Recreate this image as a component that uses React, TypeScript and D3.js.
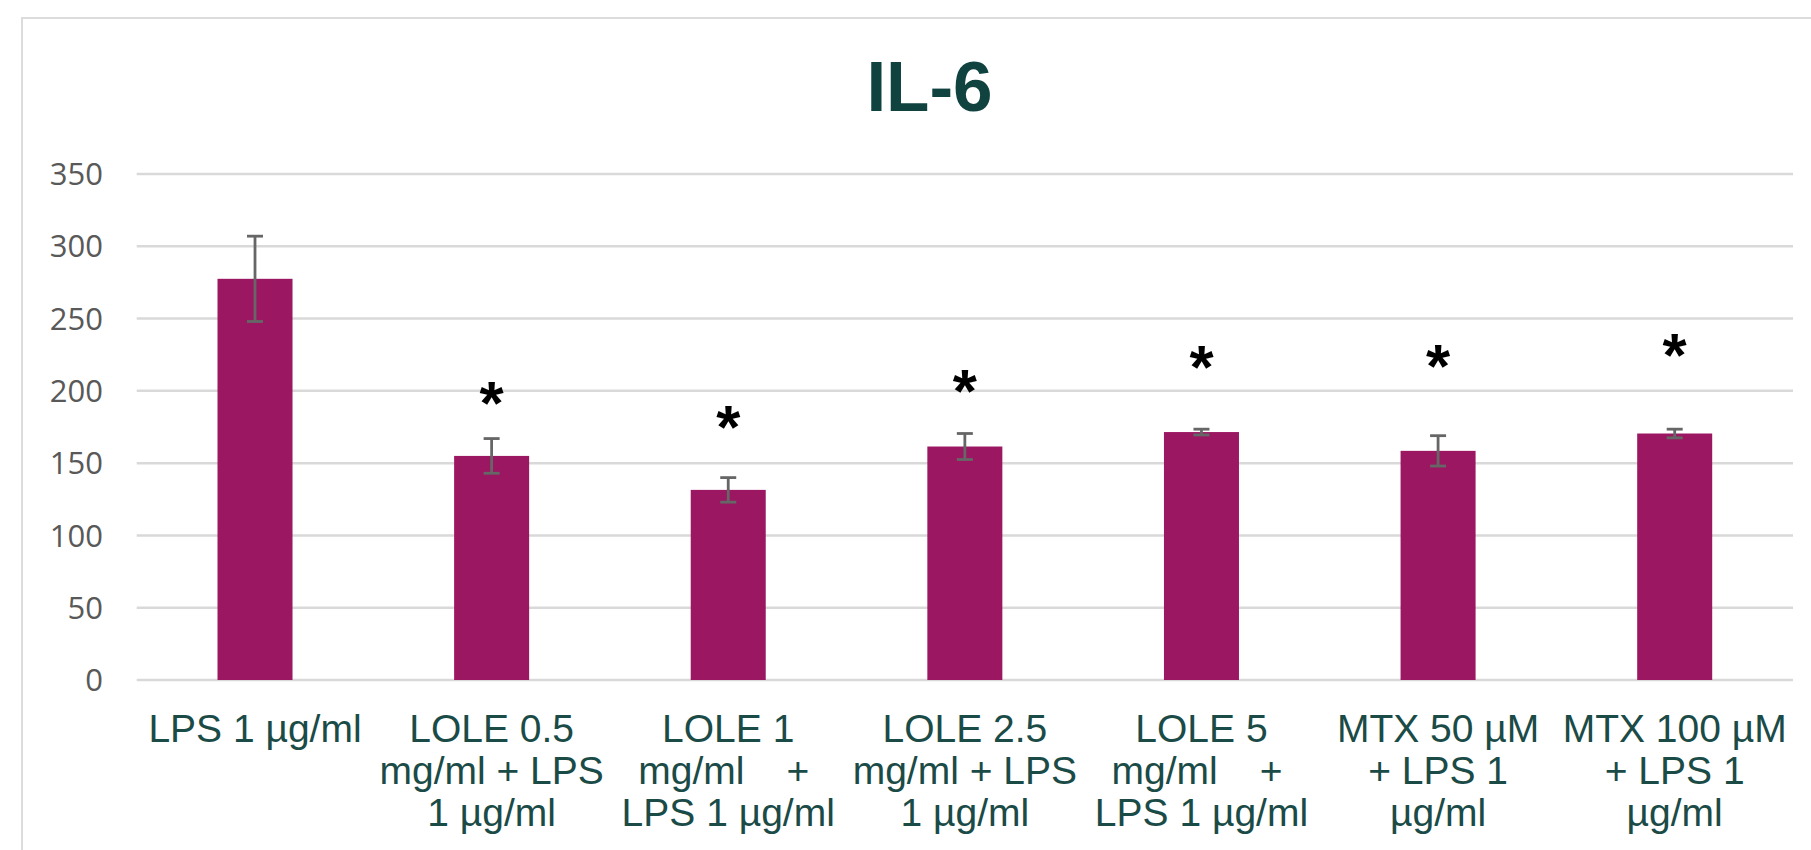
import React, { useEffect, useRef } from 'react';
import * as d3 from 'd3';

// IL-6 levels per treatment
const categories = ['LPS', 'LOLE 0.5', 'LOLE 1', 'LOLE 2.5', 'LOLE 5', 'MTX 50', 'MTX 100'];
const labelLines = [
  ['LPS 1 µg/ml'],
  ['LOLE 0.5', 'mg/ml + LPS', '1 µg/ml'],
  ['LOLE 1', 'mg/ml|+', 'LPS 1 µg/ml'],
  ['LOLE 2.5', 'mg/ml + LPS', '1 µg/ml'],
  ['LOLE 5', 'mg/ml|+', 'LPS 1 µg/ml'],
  ['MTX 50 µM', '+ LPS 1', 'µg/ml'],
  ['MTX 100 µM', '+ LPS 1', 'µg/ml'],
];
const means = [277.5, 155, 131.5, 161.5, 171.5, 158.5, 170.5];
const errors = [29.5, 12, 8.5, 9, 2, 10.5, 3];
// where the significance stars sit (in y units), null = none
const starLevels = [null, 198, 181, 206, 222.5, 223.5, 231];
const yTicks = [0, 50, 100, 150, 200, 250, 300, 350];

const W = 1811;
const H = 850;

const App = () => {
  const ref = useRef<SVGSVGElement>(null);

  useEffect(() => {
    const svg = d3.select(ref.current);
    svg.selectAll('*').remove();

    const left = 136.7;
    const right = 1793;
    const top = 174;
    const bottom = 680;

    const x = d3
      .scaleBand()
      .domain(categories)
      .range([left, right])
      .paddingInner(0.683)
      .paddingOuter(0.3415);
    const y = d3.scaleLinear().domain([0, 350]).range([bottom, top]);

    // chart area border (cropped on right/bottom)
    svg
      .append('rect')
      .attr('x', 22)
      .attr('y', 18)
      .attr('width', W)
      .attr('height', H)
      .attr('fill', '#fff')
      .attr('stroke', '#dcdcdc')
      .attr('stroke-width', 2);

    // title
    svg
      .append('text')
      .attr('x', 929.5)
      .attr('y', 111)
      .attr('text-anchor', 'middle')
      .attr('font-family', '"Liberation Sans", Arial, sans-serif')
      .attr('font-weight', 'bold')
      .attr('font-size', 71)
      .attr('fill', '#10433f')
      .text('IL-6');

    // gridlines
    svg
      .append('g')
      .selectAll('line')
      .data(yTicks)
      .enter()
      .append('line')
      .attr('x1', left)
      .attr('x2', right)
      .attr('y1', (d) => y(d))
      .attr('y2', (d) => y(d))
      .attr('stroke', '#d9d9d9')
      .attr('stroke-width', 2.5);

    // y axis labels
    svg
      .append('g')
      .selectAll('text')
      .data(yTicks)
      .enter()
      .append('text')
      .attr('x', 103)
      .attr('y', (d) => y(d))
      .attr('dy', '0.36em')
      .attr('text-anchor', 'end')
      .attr('font-family', '"Open Sans", sans-serif')
      .attr('font-size', 31)
      .attr('fill', '#595959')
      .text((d) => d);

    // bars
    svg
      .append('g')
      .selectAll('rect')
      .data(means)
      .enter()
      .append('rect')
      .attr('x', (d, i) => x(categories[i]) || 0)
      .attr('width', x.bandwidth())
      .attr('y', (d) => y(d))
      .attr('height', (d) => bottom - y(d))
      .attr('fill', '#9b1762');

    // error bars
    const cap = 8;
    const eg = svg.append('g').attr('stroke', '#666666').attr('stroke-width', 2.8);
    means.forEach((m, i) => {
      const cx = (x(categories[i]) || 0) + x.bandwidth() / 2;
      const hi = y(m + errors[i]);
      const lo = y(m - errors[i]);
      eg.append('line').attr('x1', cx).attr('x2', cx).attr('y1', hi).attr('y2', lo);
      eg.append('line').attr('x1', cx - cap).attr('x2', cx + cap).attr('y1', hi).attr('y2', hi);
      eg.append('line').attr('x1', cx - cap).attr('x2', cx + cap).attr('y1', lo).attr('y2', lo);
    });

    // significance stars
    svg
      .append('g')
      .selectAll('text')
      .data(starLevels.map((s, i) => ({ s, i })).filter((d) => d.s !== null))
      .enter()
      .append('text')
      .attr('x', (d) => (x(categories[d.i]) || 0) + x.bandwidth() / 2)
      .attr('y', (d) => y(d.s as number) + 30)
      .attr('text-anchor', 'middle')
      .attr('font-family', '"Liberation Sans", Arial, sans-serif')
      .attr('font-weight', 'bold')
      .attr('font-size', 62)
      .attr('fill', '#000')
      .text('*');

    // category labels (wrapped like the original)
    const lg = svg
      .append('g')
      .attr('font-family', '"Liberation Sans", Arial, sans-serif')
      .attr('font-size', 39)
      .attr('fill', '#1b4b47');
    labelLines.forEach((lines, i) => {
      const cx = (x(categories[i]) || 0) + x.bandwidth() / 2;
      lines.forEach((line, j) => {
        const ly = bottom + 62 + j * 42;
        if (line.includes('|')) {
          const parts = line.split('|');
          lg.append('text').attr('x', cx - 90).attr('y', ly).attr('text-anchor', 'start').text(parts[0]);
          lg.append('text').attr('x', cx + 81).attr('y', ly).attr('text-anchor', 'end').text(parts[1]);
        } else {
          lg.append('text').attr('x', cx).attr('y', ly).attr('text-anchor', 'middle').text(line);
        }
      });
    });
  });

  return (
    <svg
      ref={ref}
      width={W}
      height={H}
      style={{ position: 'absolute', left: 0, top: 0, display: 'block', background: '#fff' }}
    />
  );
};

export default App;
